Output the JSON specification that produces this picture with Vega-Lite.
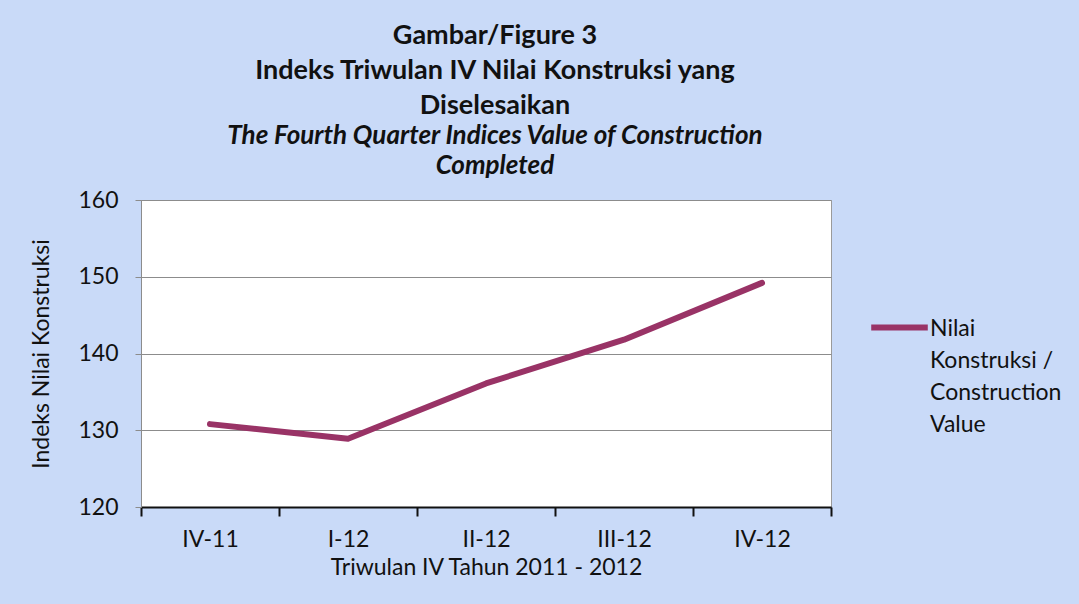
{
  "$schema": "https://vega.github.io/schema/vega-lite/v6.json",
  "autosize": "none",
  "width": 690,
  "height": 307,
  "padding": {"left": 141, "top": 200, "right": 248, "bottom": 97},
  "background": "#c9daf8",
  "config": {
    "font": "Lato",
    "view": {"fill": "white", "stroke": "#9a9a9a", "strokeWidth": 1}
  },
  "title": {
    "text": ["Gambar/Figure 3", "Indeks Triwulan IV Nilai Konstruksi yang", "Diselesaikan"],
    "subtitle": ["The Fourth Quarter Indices Value of Construction", "Completed"],
    "anchor": "middle",
    "frame": "group",
    "dx": 9,
    "fontSize": 27,
    "fontWeight": "bold",
    "color": "#111111",
    "lineHeight": 35,
    "subtitleFontSize": 26,
    "subtitleFontStyle": "italic",
    "subtitleFontWeight": "bold",
    "subtitleColor": "#111111",
    "subtitleLineHeight": 30,
    "subtitlePadding": 3,
    "offset": 9
  },
  "data": {
    "values": [
      {"q": "IV-11", "v": 130.8, "s": "Nilai Konstruksi / Construction Value"},
      {"q": "I-12", "v": 128.9, "s": "Nilai Konstruksi / Construction Value"},
      {"q": "II-12", "v": 136.1, "s": "Nilai Konstruksi / Construction Value"},
      {"q": "III-12", "v": 141.8, "s": "Nilai Konstruksi / Construction Value"},
      {"q": "IV-12", "v": 149.2, "s": "Nilai Konstruksi / Construction Value"}
    ]
  },
  "mark": {"type": "line", "strokeWidth": 6, "strokeCap": "round", "strokeJoin": "round"},
  "encoding": {
    "x": {
      "field": "q", "type": "ordinal", "sort": null,
      "scale": {"paddingInner": 0, "paddingOuter": 0},
      "axis": {
        "title": "Triwulan IV Tahun 2011 - 2012",
        "titleFontSize": 23, "titleFontWeight": "normal", "titleColor": "#111111", "titlePadding": 5,
        "labelFontSize": 23, "labelColor": "#111111", "labelAngle": 0, "labelPadding": 12,
        "domainColor": "#111111", "domainWidth": 2,
        "tickColor": "#111111", "tickWidth": 2, "tickSize": 9, "tickBand": "extent",
        "grid": false
      }
    },
    "y": {
      "field": "v", "type": "quantitative",
      "scale": {"domain": [120, 160], "nice": false, "zero": false},
      "axis": {
        "title": "Indeks Nilai Konstruksi",
        "titleFontSize": 23, "titleFontWeight": "normal", "titleColor": "#111111", "titlePadding": 24,
        "values": [120, 130, 140, 150, 160],
        "labelFontSize": 23, "labelColor": "#111111", "labelPadding": 17,
        "domainColor": "#8c8c8c", "tickColor": "#8c8c8c", "tickSize": 6,
        "grid": true, "gridColor": "#8c8c8c", "gridWidth": 1
      }
    },
    "color": {
      "field": "s", "type": "nominal",
      "scale": {"range": ["#993366"]},
      "legend": {
        "title": null,
        "orient": "none", "legendX": 727, "legendY": 96,
        "symbolType": "stroke", "symbolStrokeWidth": 6, "symbolSize": 3200,
        "labelFontSize": 23, "labelColor": "#111111", "labelLimit": 200,
        "labelExpr": "['Nilai', 'Konstruksi /', 'Construction', 'Value']",
        "labelBaseline": "alphabetic", "labelOffset": -1,
        "encode": {"labels": {"update": {"dy": {"value": 8}, "lineHeight": {"value": 32}}}}
      }
    }
  }
}
